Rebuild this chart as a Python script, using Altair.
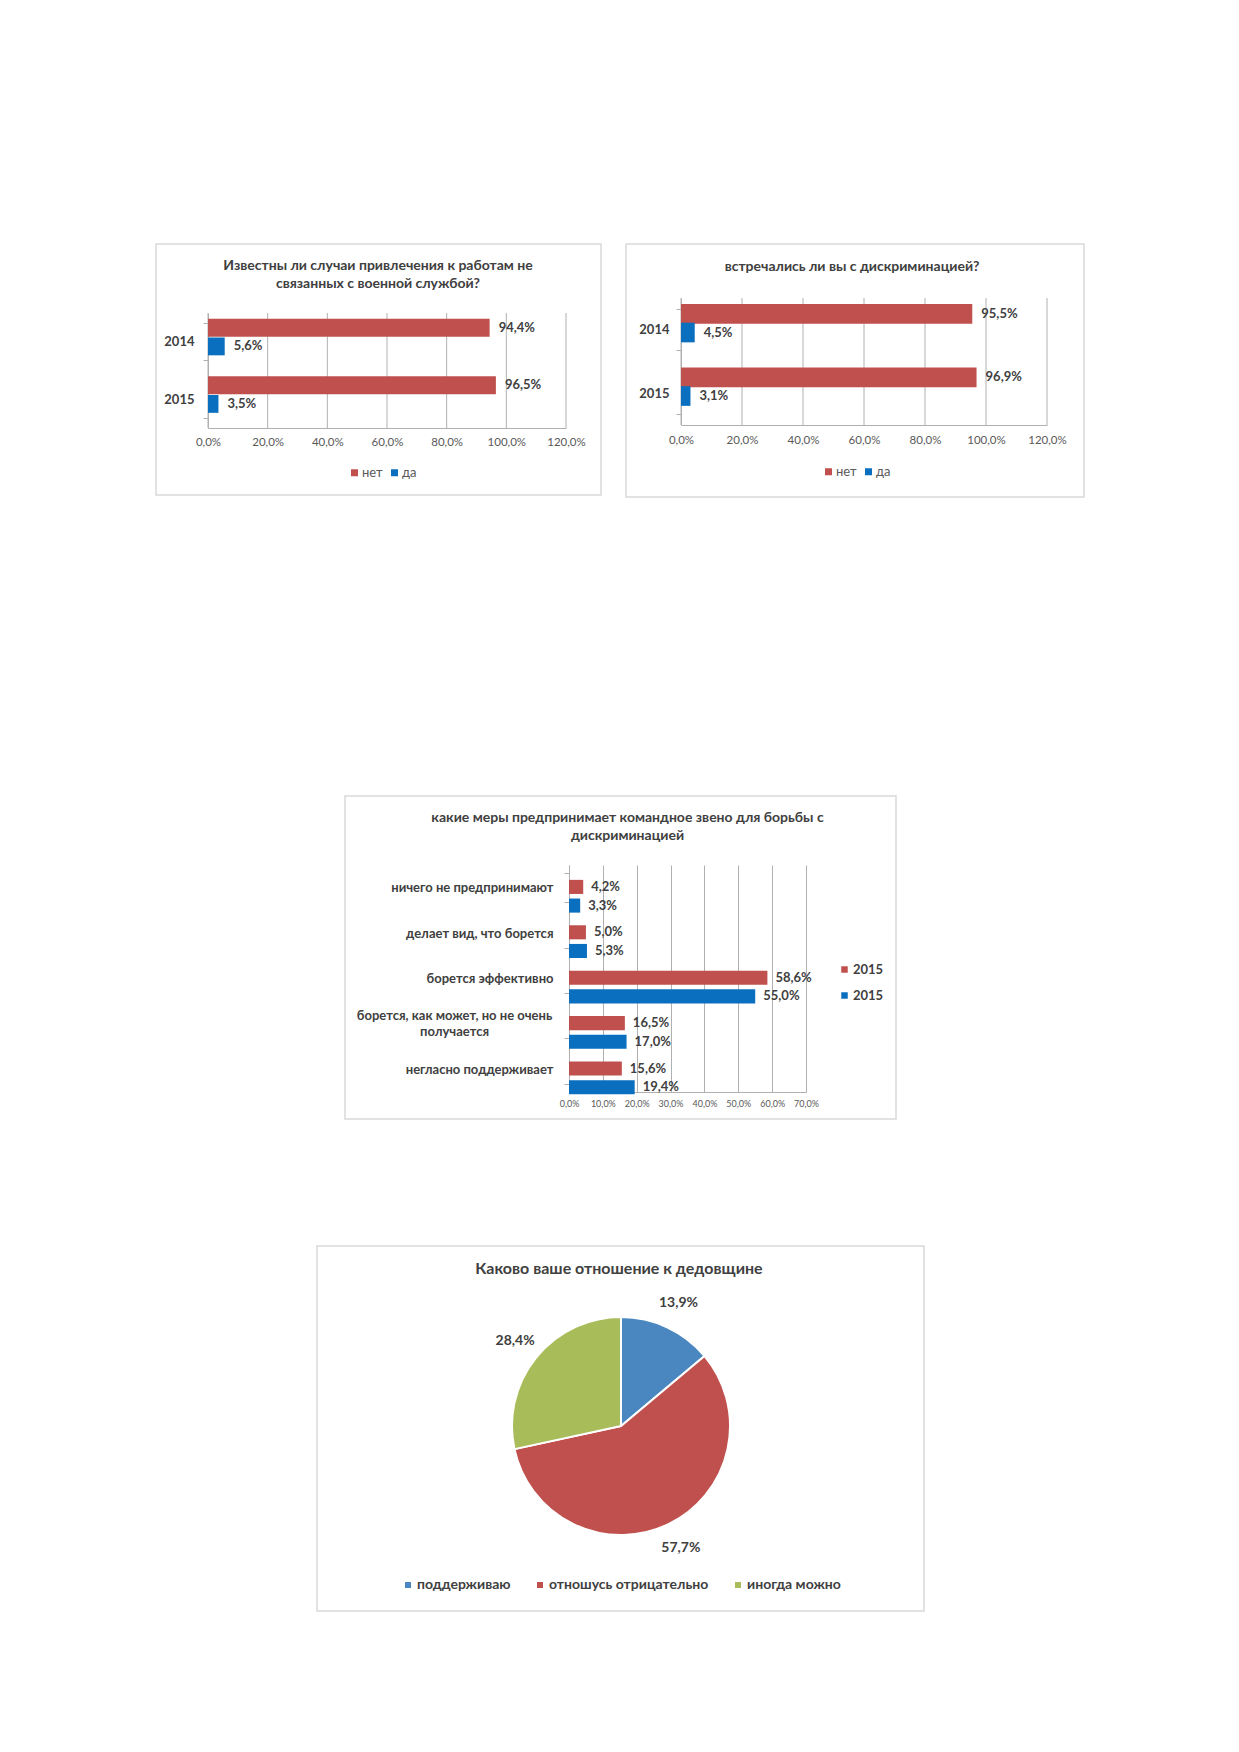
import altair as alt
import pandas as pd

FONT = "Lato"
RED = "#C0504D"
BLUE = "#0A6FBF"
PIE_BLUE = "#4A86BF"
PIE_GREEN = "#A8BC5A"
GRID = "#b0b0b0"
FRAME = "#d9d9d9"
DARK = "#404040"
GRAYTXT = "#595959"

# ---------------- data ----------------
years = ["2014", "2015"]
yn_series = ["нет", "да"]

c1_title = ["Известны ли случаи привлечения к работам не", "связанных с военной службой?"]
c1_net = [94.4, 96.5]
c1_da = [5.6, 3.5]

c2_title = "встречались ли вы с дискриминацией?"
c2_net = [95.5, 96.9]
c2_da = [4.5, 3.1]

pct_ticks_120 = [0, 20, 40, 60, 80, 100, 120]

c3_title = ["какие меры предпринимает командное звено для борьбы с", "дискриминацией"]
c3_categories = [
    "ничего не предпринимают",
    "делает вид, что борется",
    "борется  эффективно",
    "борется, как может, но не очень получается",
    "негласно поддерживает",
]
c3_series = ["2015 (1)", "2015 (2)"]
c3_red = [4.2, 5.0, 58.6, 16.5, 15.6]
c3_blue = [3.3, 5.3, 55.0, 17.0, 19.4]
pct_ticks_70 = [0, 10, 20, 30, 40, 50, 60, 70]

pie_title = "Каково ваше отношение к дедовщине"
pie_cats = ["поддерживаю", "отношусь отрицательно", "иногда можно"]
pie_vals = [13.9, 57.7, 28.4]

LABEL_EXPR = "replace(format(datum.value, '.1f'), '.', ',') + '%'"
AXIS_PCT = "replace(format(datum.value, '.1f'), '.', ',') + '%'"

P_IN, P_OUT, SUB_PAD = 0.36, 0.18, 0.06


def band_geometry(span, n):
    step = span / (n - P_IN + 2 * P_OUT)
    bw = step * (1 - P_IN)
    sub = bw / (2 - SUB_PAD) * (1 - SUB_PAD)
    return bw, sub


def frame(w, h, l, r, t, b):
    return alt.Chart(alt.Data(values=[{}])).mark_rect(
        filled=False, stroke=FRAME, strokeWidth=1.5
    ).encode(
        x=alt.value(-l), x2=alt.value(w + r), y=alt.value(-t), y2=alt.value(h + b)
    )


def spacer_chart(width, top):
    # invisible layout helper that pushes the next panel right / down
    return alt.Chart(alt.Data(values=[{}])).mark_rect(opacity=0).encode(
        x=alt.value(0), x2=alt.value(width), y=alt.value(-top), y2=alt.value(1)
    ).properties(width=width, height=1)


def yes_no_chart(title_lines, net, da, w, h, band_top, margins, title_dx, title_offset,
                 legend_x, legend_y, ylab_pad, xlab_pad):
    df = pd.DataFrame({
        "year": years + years,
        "series": [yn_series[0]] * 2 + [yn_series[1]] * 2,
        "value": net + da,
    })
    bw, sub = band_geometry(h - band_top, 2)
    x_axis = alt.Axis(values=pct_ticks_120, labelExpr=AXIS_PCT, grid=False,
                      ticks=False, tickSize=0, domain=True,
                      domainColor=GRID, labelFont=FONT, labelFontSize=11.5,
                      labelColor=GRAYTXT, labelPadding=xlab_pad, labelFlush=False,
                      labelOverlap=False)
    x_scale = alt.Scale(domain=[0, 120], nice=False)
    base = alt.Chart(df).transform_calculate(label=LABEL_EXPR).encode(
        y=alt.Y("year:N", sort=years, title=None,
                scale=alt.Scale(paddingInner=P_IN, paddingOuter=P_OUT, range=[band_top, h]),
                axis=alt.Axis(tickBand="extent", ticks=True, tickSize=5, tickColor=GRID,
                              domain=True, domainColor=GRID, grid=False,
                              labelFont=FONT, labelFontSize=13, labelFontWeight="bold",
                              labelColor=DARK, labelPadding=ylab_pad)),
        yOffset=alt.YOffset("series:N", sort=yn_series,
                            scale=alt.Scale(paddingInner=SUB_PAD, paddingOuter=0,
                                            range=[0, bw])),
        x=alt.X("value:Q", title=None, scale=x_scale, axis=x_axis),
    )
    grid = alt.Chart(pd.DataFrame({"tick": pct_ticks_120})).mark_rule(
        color=GRID, strokeWidth=1
    ).encode(
        x=alt.X("tick:Q", title=None, scale=x_scale, axis=x_axis),
        y=alt.value(band_top), y2=alt.value(h),
    )
    bars = base.mark_bar(size=sub).encode(
        color=alt.Color("series:N", sort=yn_series,
                        scale=alt.Scale(domain=yn_series, range=[RED, BLUE]),
                        legend=alt.Legend(orient="none", legendX=legend_x, legendY=legend_y,
                                          direction="horizontal", title=None,
                                          symbolType="square", symbolSize=49,
                                          symbolStrokeWidth=0, labelFont=FONT,
                                          labelFontSize=13, labelColor=GRAYTXT,
                                          columnPadding=5, labelOffset=1)),
    )
    labels = base.mark_text(align="left", baseline="middle", dx=9, font=FONT,
                            fontSize=13, fontWeight="bold", color=DARK).encode(
        text="label:N")
    l, r, t, b = margins
    return alt.layer(frame(w, h, l, r, t, b), grid, bars, labels).properties(
        width=w, height=h,
        title=alt.TitleParams(text=title_lines, frame="group", anchor="middle",
                              dx=title_dx, offset=title_offset, font=FONT, fontSize=14,
                              fontWeight="bold", color=DARK, lineHeight=18),
    )


# chart 1: plot origin shares the same top as chart 2 (bands start 15px lower)
c1 = yes_no_chart(c1_title, c1_net, c1_da, 358, 130, 15, (52, 35, 54, 67),
                  -9, -48, 140, 168, 9, 8)
c2 = yes_no_chart(c2_title, c2_net, c2_da, 366, 127, 0, (55, 37, 54, 72),
                  -12, -31, 141, 167, 7, 9)

# ---------------- chart 3 ----------------
LONG = c3_categories[3]
IS_LONG = "datum.value == '" + LONG + "'"
c3_bw, c3_sub = band_geometry(227, 5)
c3_df = pd.DataFrame({
    "category": c3_categories * 2,
    "series": [c3_series[0]] * 5 + [c3_series[1]] * 5,
    "value": c3_red + c3_blue,
})
c3_base = alt.Chart(c3_df).transform_calculate(label=LABEL_EXPR).encode(
    y=alt.Y("category:N", sort=c3_categories, title=None,
            scale=alt.Scale(paddingInner=P_IN, paddingOuter=P_OUT),
            axis=alt.Axis(tickBand="extent", ticks=True, tickSize=5, tickColor=GRID,
                          domain=True, domainColor=GRID, grid=False,
                          labelFont=FONT, labelFontSize=13, labelFontWeight="bold",
                          labelColor=DARK, labelLineHeight=16, labelLimit=400,
                          labelExpr=("datum.label == '" + LONG + "' ? "
                                     "['борется, как может, но не очень', 'получается'] : datum.label"),
                          labelAlign={"condition": {"test": IS_LONG, "value": "center"},
                                      "value": "right"},
                          labelPadding={"condition": {"test": IS_LONG, "value": 110},
                                        "value": 11},
                          labelOffset={"condition": {"test": IS_LONG, "value": -8},
                                       "value": 0})),
    yOffset=alt.YOffset("series:N", sort=c3_series,
                        scale=alt.Scale(paddingInner=SUB_PAD, paddingOuter=0,
                                        range=[0, c3_bw])),
    x=alt.X("value:Q", title=None, scale=alt.Scale(domain=[0, 70], nice=False),
            axis=alt.Axis(values=pct_ticks_70, labelExpr=AXIS_PCT, grid=True, gridColor=GRID,
                          ticks=False, tickSize=0, domain=True, domainColor=GRID,
                          labelFont=FONT, labelFontSize=9, labelColor=GRAYTXT,
                          labelPadding=7, labelFlush=False, labelOverlap=False)),
)
c3_bars = c3_base.mark_bar(size=c3_sub).encode(
    color=alt.Color("series:N", sort=c3_series,
                    scale=alt.Scale(domain=c3_series, range=[RED, BLUE]),
                    legend=alt.Legend(orient="none", legendX=269, legendY=98,
                                      direction="vertical", title=None,
                                      labelExpr="split(datum.label, ' ')[0]",
                                      symbolType="square", symbolSize=42,
                                      symbolStrokeWidth=0, labelFont=FONT,
                                      labelFontSize=13, labelFontWeight="bold",
                                      labelColor=DARK, rowPadding=12, labelOffset=2)),
)
c3_labels = c3_base.mark_text(align="left", baseline="middle", dx=8, font=FONT,
                              fontSize=13, fontWeight="bold", color=DARK).encode(
    text="label:N")
c3 = alt.layer(frame(237, 227, 224, 90, 69, 27), c3_bars, c3_labels).properties(
    width=237, height=227,
    title=alt.TitleParams(text=c3_title, frame="group", anchor="middle", dx=-60, offset=-48,
                          font=FONT, fontSize=14, fontWeight="bold", color=DARK,
                          lineHeight=18),
)

# ---------------- pie ----------------
pie_df = pd.DataFrame({"cat": pie_cats, "value": pie_vals, "order": [0, 1, 2]})
pie_base = alt.Chart(pie_df).transform_calculate(label=LABEL_EXPR).encode(
    theta=alt.Theta("value:Q", stack=True),
    order=alt.Order("order:Q"),
)
arcs = pie_base.mark_arc(outerRadius=109, stroke="white", strokeWidth=2).encode(
    color=alt.Color("cat:N", sort=pie_cats,
                    scale=alt.Scale(domain=pie_cats, range=[PIE_BLUE, RED, PIE_GREEN]),
                    legend=alt.Legend(orient="none", legendX=-114, legendY=258,
                                      direction="horizontal", title=None,
                                      symbolType="square", symbolSize=36,
                                      symbolStrokeWidth=0, labelFont=FONT,
                                      labelFontSize=14, labelFontWeight="bold",
                                      labelColor=DARK, columnPadding=22, labelOffset=2)),
)
pie_labels = pie_base.mark_text(radius=136, font=FONT, fontSize=14, fontWeight="bold",
                                color=DARK).encode(text="label:N")
c4 = alt.layer(frame(212, 212, 198, 197, 74, 79), arcs, pie_labels).properties(
    width=212, height=212,
    title=alt.TitleParams(text=pie_title, frame="group", anchor="middle", dx=-2, offset=-32,
                          font=FONT, fontSize=16, fontWeight="bold", color=DARK),
)

row1 = alt.hconcat(c1, c2, spacing=23).resolve_scale(color="independent")
row2 = alt.hconcat(spacer_chart(135.5, 366.5), c3, spacing=0).resolve_scale(
    color="independent")
row3 = alt.hconcat(spacer_chart(107.5, 199.5), c4, spacing=0).resolve_scale(
    color="independent")
chart = alt.vconcat(row1, row2, row3, spacing=0).resolve_scale(
    color="independent"
).properties(
    padding={"left": 147, "top": 235, "right": 5, "bottom": 5},
    background="white",
).configure_view(strokeWidth=0)

chart.save("out.html", embed_options={"renderer": "svg", "actions": False})
